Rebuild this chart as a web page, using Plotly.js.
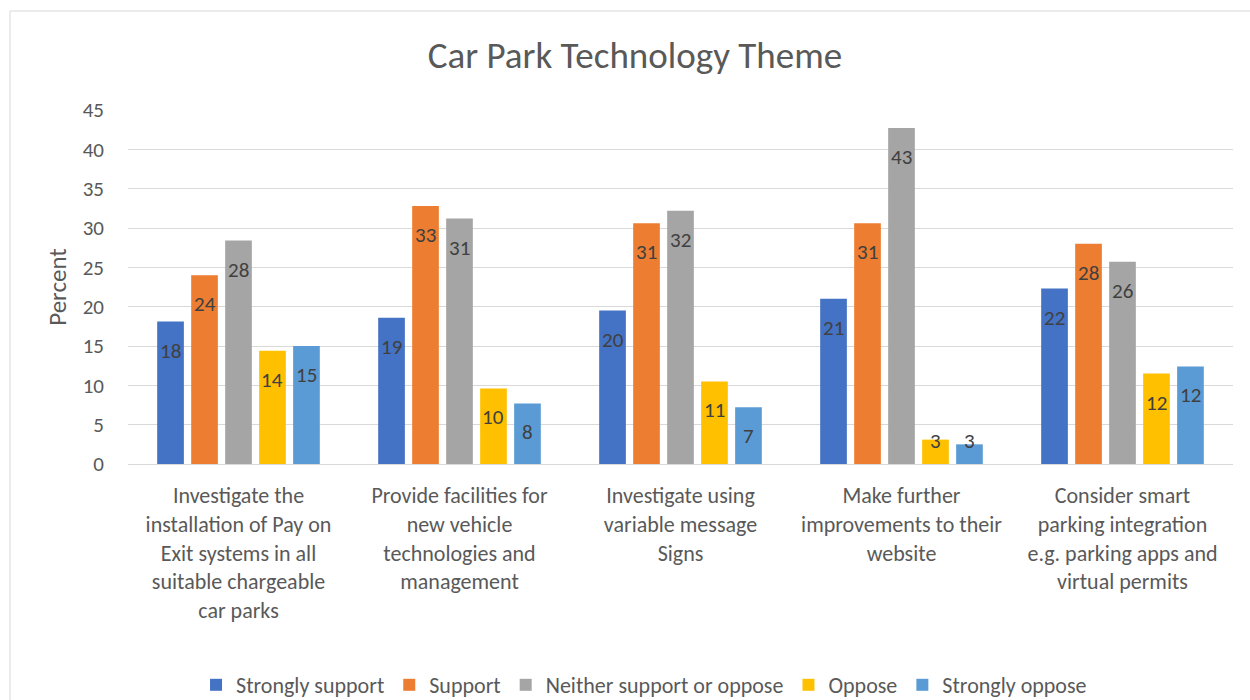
<!DOCTYPE html>
<html>
<head>
<meta charset="utf-8">
<script src="https://cdn.plot.ly/plotly-3.0.1.min.js"></script>
<style>
  html, body { margin: 0; padding: 0; background: #fff; }
  #chart { width: 1250px; height: 700px; }
</style>
</head>
<body>
<div id="chart"></div>
<script>
const categories = [
  "Investigate the<br>installation of Pay on<br>Exit systems in all<br>suitable chargeable<br>car parks",
  "Provide facilities for<br>new vehicle<br>technologies and<br>management",
  "Investigate using<br>variable message<br>Signs",
  "Make further<br>improvements to their<br>website",
  "Consider smart<br>parking integration<br>e.g. parking apps and<br>virtual permits"
];
const seriesNames = ["Strongly support", "Support", "Neither support or oppose", "Oppose", "Strongly oppose"];
const stronglySupport = [18.1, 18.6, 19.5, 21.0, 22.3];
const support = [24.0, 32.8, 30.6, 30.6, 28.0];
const neither = [28.4, 31.2, 32.2, 42.7, 25.7];
const oppose = [14.4, 9.6, 10.5, 3.1, 11.5];
const stronglyOppose = [15.0, 7.7, 7.2, 2.5, 12.4];
const yTicks = [0, 5, 10, 15, 20, 25, 30, 35, 40, 45];

const seriesValues = [stronglySupport, support, neither, oppose, stronglyOppose];
const colors = ["#4472C4", "#ED7D31", "#A5A5A5", "#FFC000", "#5B9BD5"];
const FONT = "Calibri, Carlito, Lato, sans-serif";

const W = 1250, H = 700;
const margin = { l: 128, r: 17, t: 110, b: 236, autoexpand: false };
const bargap = 0.231, bargroupgap = 0.215;

const traces = seriesValues.map((vals, i) => ({
  type: "bar",
  name: seriesNames[i],
  x: categories,
  y: vals,
  marker: { color: colors[i] },
  hovertemplate: "%{y}<extra>" + seriesNames[i] + "</extra>"
}));

// Data labels placed "inside end", Excel style, through the axes
const plotW = W - margin.l - margin.r;
const slot = plotW / categories.length * (1 - bargap) / seriesValues.length;
const minLabelValue = 6.6;
const annotations = [];
seriesValues.forEach((vals, s) => {
  vals.forEach((v, c) => {
    annotations.push({
      x: categories[c], xref: "x",
      y: Math.max(v, minLabelValue), yref: "y",
      xshift: (s - (seriesValues.length - 1) / 2) * slot,
      yshift: -14,
      yanchor: "top", xanchor: "center",
      text: String(Math.round(v)),
      showarrow: false,
      font: { family: FONT, size: 21, color: "#404040" }
    });
  });
});

const layout = {
  width: W,
  height: H,
  margin: margin,
  paper_bgcolor: "#ffffff",
  plot_bgcolor: "#ffffff",
  font: { family: FONT, color: "#595959" },
  title: {
    text: "Car Park Technology Theme",
    font: { family: FONT, size: 37, color: "#595959" },
    x: 0.508, xanchor: "center",
    y: 0.921, yanchor: "middle"
  },
  barmode: "group",
  bargap: bargap,
  bargroupgap: bargroupgap,
  xaxis: {
    type: "category",
    automargin: false,
    showgrid: false,
    showline: true,
    linecolor: "#D9D9D9",
    linewidth: 1,
    ticks: "",
    tickfont: { family: FONT, size: 22, color: "#595959" },
    ticklabelstandoff: 12,
    zeroline: false,
    fixedrange: true
  },
  yaxis: {
    automargin: false,
    range: [0, 45],
    tickvals: yTicks,
    ticktext: yTicks.map(String),
    showgrid: true,
    gridcolor: "#D9D9D9",
    gridwidth: 1,
    zeroline: false,
    showline: false,
    ticks: "",
    ticklabelstandoff: 23,
    tickfont: { family: FONT, size: 21, color: "#595959" },
    title: { text: "Percent", font: { family: FONT, size: 25, color: "#595959" }, standoff: 8 },
    fixedrange: true
  },
  showlegend: true,
  legend: {
    orientation: "h",
    xref: "paper",
    x: 0.467, xanchor: "center",
    yref: "container",
    y: 1 - 685 / H, yanchor: "middle",
    font: { family: FONT, size: 22, color: "#595959" },
    itemwidth: 30,
    tracegroupgap: 0
  },
  annotations: annotations,
  shapes: [{
    type: "rect", xref: "paper", yref: "paper",
    x0: -0.1068, x1: 1.5, y0: -1.5, y1: 1.2797,
    line: { color: "#D9D9D9", width: 1 },
    fillcolor: "rgba(0,0,0,0)",
    layer: "below"
  }]
};

Plotly.newPlot("chart", traces, layout, { displayModeBar: false });
</script>
</body>
</html>
